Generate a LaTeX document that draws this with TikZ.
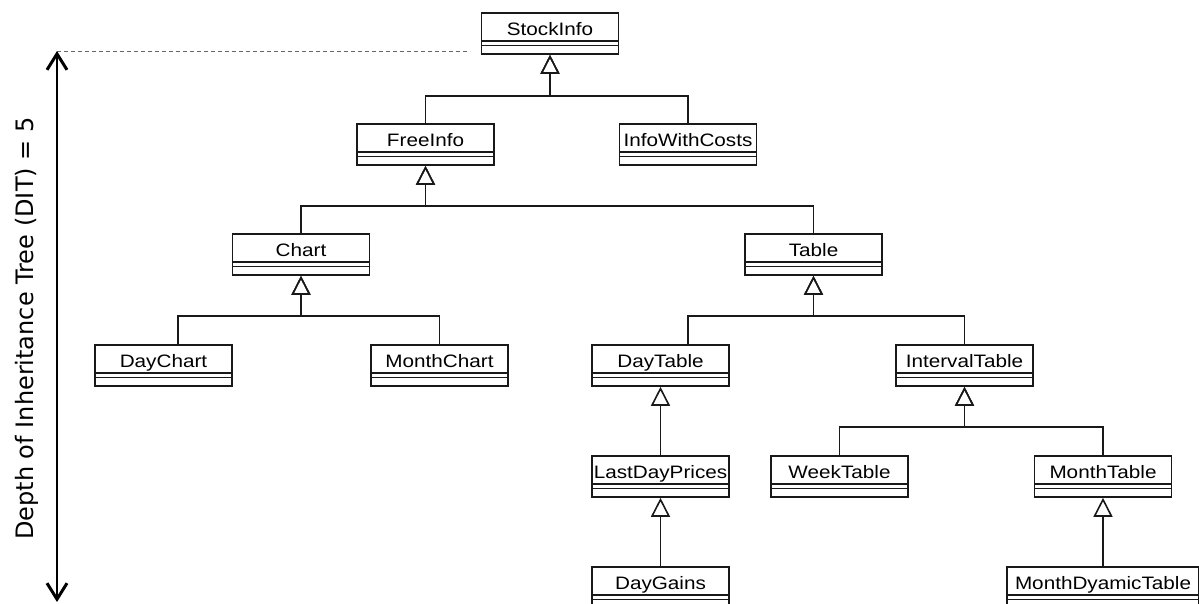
\documentclass[tikz,border=0pt]{standalone}
\usepackage{fontspec}
\usepackage{tikz}
\usetikzlibrary{arrows.meta, calc, positioning}
\newfontfamily\classfont[FakeStretch=1.15]{Liberation Sans}
\newfontfamily\ditfont{DejaVu Sans}

\tikzset{
  umlclass/.style={draw=black!90, line width=1.6pt, minimum width=137pt, minimum height=41pt,
    inner xsep=2pt, inner ysep=5pt, text height=17.5pt, text depth=13.5pt,
    font=\classfont\fontsize{18}{20}\selectfont,
    path picture={\draw[line width=1.6pt]
      ([yshift=-28pt]path picture bounding box.north west) -- ([yshift=-28pt]path picture bounding box.north east)
      ([yshift=-32.5pt]path picture bounding box.north west) -- ([yshift=-32.5pt]path picture bounding box.north east);}},
  inherit/.style={line width=1.6pt, draw=black!90, -{Triangle[open, length=19pt, width=19pt]}},
  ditarrow/.style={line width=1.3pt, {Straight Barb[length=16pt, width=20pt, line width=3pt]}-{Straight Barb[length=16pt, width=20pt, line width=3pt]}},
}

\begin{document}
\begin{tikzpicture}[x=1pt, y=-1pt]
\useasboundingbox (0,0) rectangle (1199,603);

% classes
\node (StockInfo) at (550,33.5) [umlclass] {StockInfo};
\node (FreeInfo) at (425.5,144.5) [umlclass] {FreeInfo};
\node (InfoWithCosts) at (688,144.5) [umlclass] {InfoWithCosts};
\node (Chart) at (301,254.5) [umlclass] {Chart};
\node (Table) at (813.5,254.5) [umlclass] {Table};
\node (DayChart) at (163.5,365.5) [umlclass] {DayChart};
\node (MonthChart) at (439.5,365.5) [umlclass] {MonthChart};
\node (DayTable) at (660.5,365.5) [umlclass] {DayTable};
\node (IntervalTable) at (964.5,365.5) [umlclass] {IntervalTable};
\node (LastDayPrices) at (660.5,476.5) [umlclass] {LastDayPrices};
\node (WeekTable) at (839.5,476.5) [umlclass] {WeekTable};
\node (MonthTable) at (1103,476.5) [umlclass] {MonthTable};
\node (DayGains) at (660.5,587.5) [umlclass] {DayGains};
\node (MonthDyamicTable) at (1103,587.5) [umlclass, minimum width=192pt] {MonthDyamicTable};

% generalizations
\draw[inherit] (FreeInfo.north) -- ++(0,-27) -| (StockInfo.south);
\draw[inherit] (InfoWithCosts.north) -- ++(0,-27) -| (StockInfo.south);
\draw[inherit] (Chart.north) -- ++(0,-27) -| (FreeInfo.south);
\draw[inherit] (Table.north) -- ++(0,-27) -| (FreeInfo.south);
\draw[inherit] ([xshift=14.5pt]DayChart.north) -- ++(0,-28) -| (Chart.south);
\draw[inherit] (MonthChart.north) -- ++(0,-28) -| (Chart.south);
\draw[inherit] ([xshift=27.5pt]DayTable.north) -- ++(0,-28) -| (Table.south);
\draw[inherit] (IntervalTable.north) -- ++(0,-28) -| (Table.south);
\draw[inherit] (WeekTable.north) -- ++(0,-28) -| (IntervalTable.south);
\draw[inherit] (MonthTable.north) -- ++(0,-28) -| (IntervalTable.south);
\draw[inherit] (LastDayPrices.north) -- (DayTable.south);
\draw[inherit] (DayGains.north) -- (LastDayPrices.south);
\draw[inherit] (MonthDyamicTable.north) -- (MonthTable.south);

% depth of inheritance
\coordinate (ditTop) at (57,51);
\coordinate (ditBot) at (57,602);
\coordinate (ditEnd) at (470,51);
\draw[gray!80!black, line width=0.8pt, dash pattern=on 4pt off 3pt] (ditTop) -- (ditEnd);
\draw[ditarrow] (ditTop) -- (ditBot);
\node (dit) at (33,328.5) [rotate=90, anchor=base, font=\ditfont\fontsize{24}{28}\selectfont] {Depth of Inheritance Tree (DIT) = 5};
\end{tikzpicture}
\end{document}
